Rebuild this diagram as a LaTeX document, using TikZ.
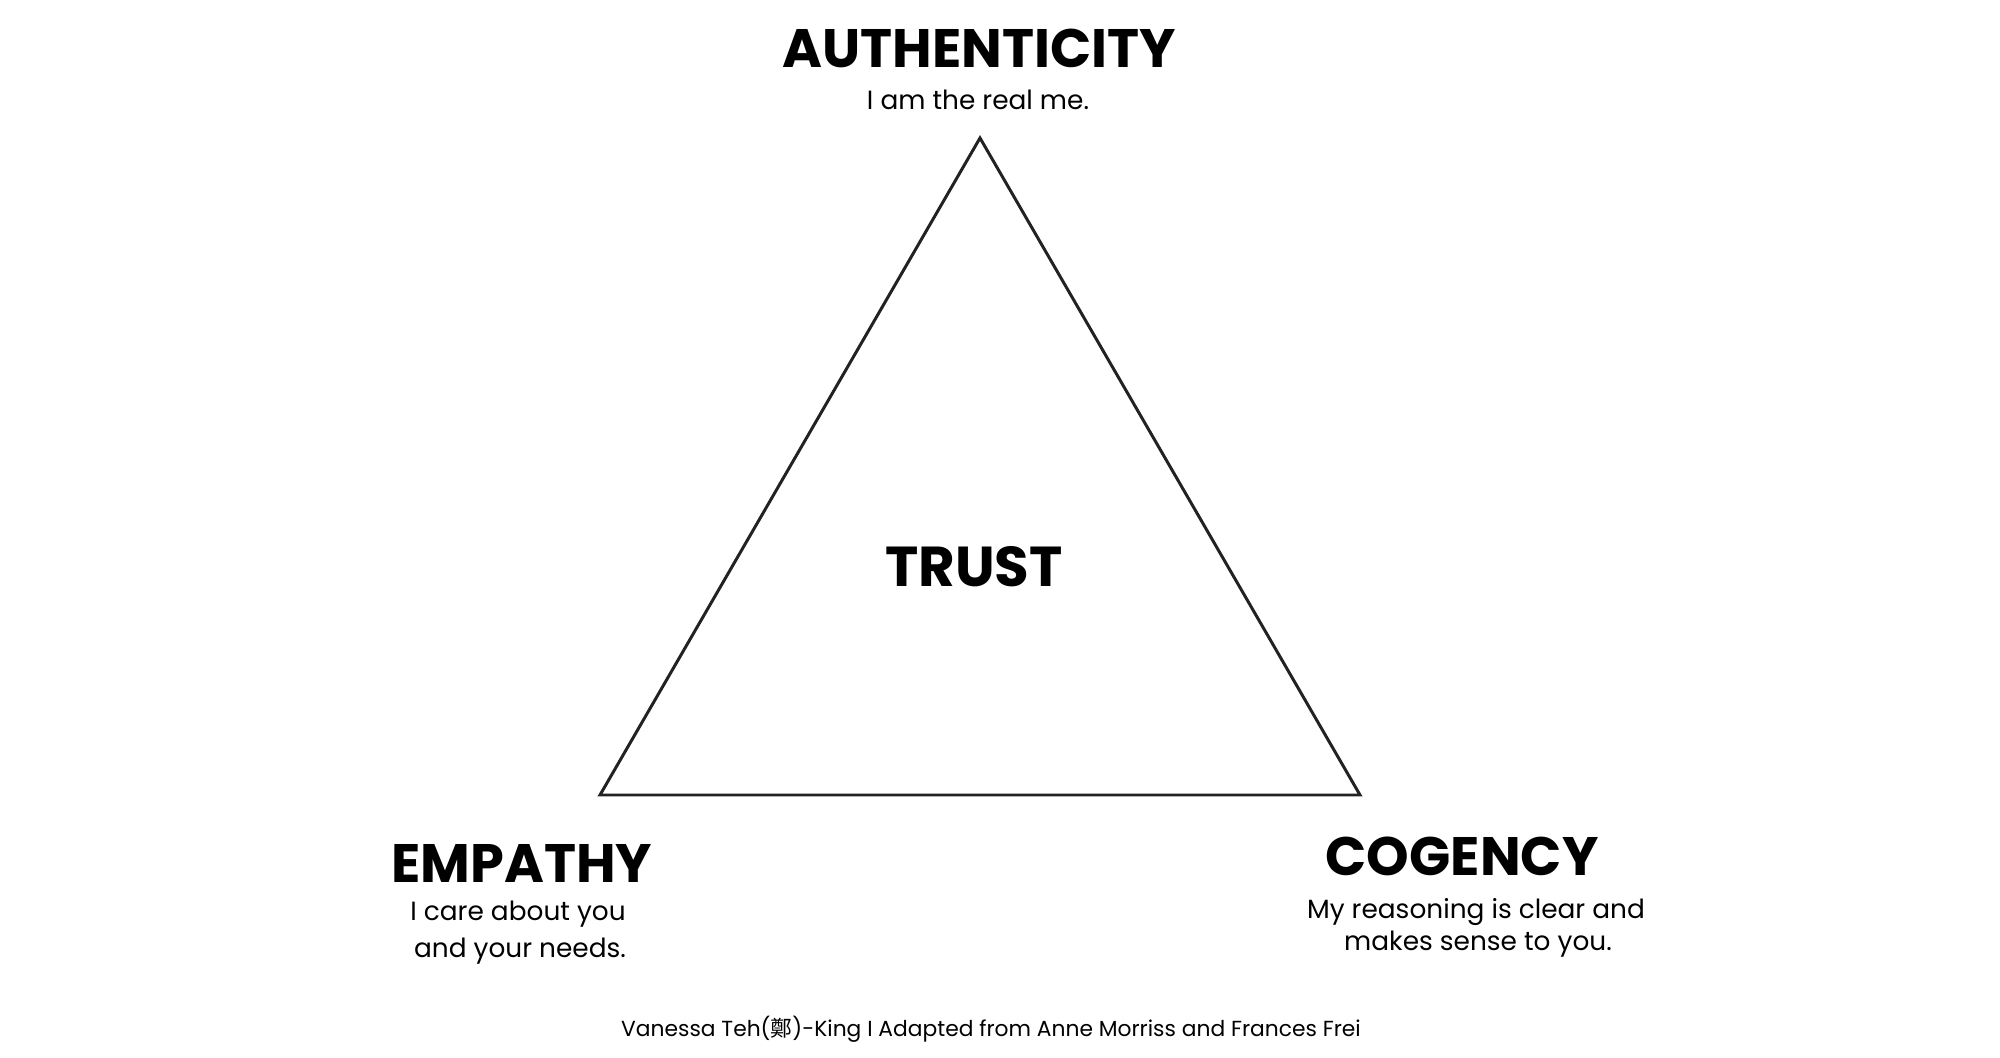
\documentclass[tikz,border=0pt]{standalone}
\usepackage{fontspec}
\setmainfont{Poppins}
\newfontfamily\cjkfont{Noto Sans CJK TC}
\definecolor{edge}{HTML}{222222}
\begin{document}
\begin{tikzpicture}[x=0.01cm,y=-0.01cm,
  head/.style={font=\bfseries\fontsize{15.4}{19}\selectfont,anchor=base,inner sep=0pt},
  sub/.style={font=\fontsize{7.5}{9}\selectfont,anchor=base,inner sep=0pt},
  credit/.style={font=\fontsize{6.2}{7}\selectfont,anchor=base,inner sep=0pt}]
\useasboundingbox (0,0) rectangle (2000,1058);
%\draw[step=100,lightgray,very thin] (0,0) grid (2000,1058);

\coordinate (top) at (980,138);
\coordinate (left) at (600,795);
\coordinate (right) at (1360,795);
\draw[edge,line width=0.85pt] (top) -- (left) -- (right) -- cycle;

\node[head] (authenticity) at (979,68) {AUTHENTICITY};
\node[sub] (realme) at (978,110) {I am the real me.};

\node[head,font=\bfseries\fontsize{16}{19}\selectfont] (trust) at (974,586) {TRUST};

\node[head] (empathy) at (522,882) {EMPATHY};
\node[sub] (care1) at (518,920) {I care about you};
\node[sub] (care2) at (520,957) {and your needs.};

\node[head] (cogency) at (1462,875) {COGENCY};
\node[sub] (reason1) at (1476,918) {My reasoning is clear and};
\node[sub] (reason2) at (1478,950) {makes sense to you.};

\node[credit] (footer) at (991,1036) {Vanessa Teh({\cjkfont 鄭})-King I Adapted from Anne Morriss and Frances Frei};
\end{tikzpicture}
\end{document}
